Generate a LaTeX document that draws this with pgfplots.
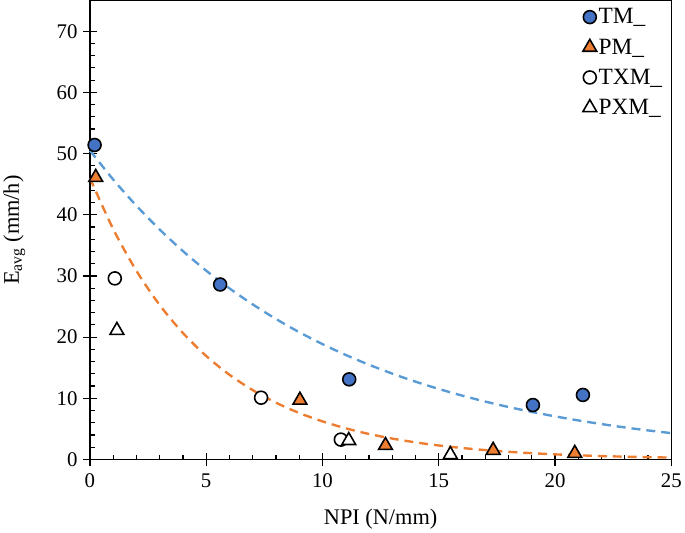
\documentclass[border=0pt]{standalone}
\usepackage{pgfplots}
\pgfplotsset{compat=1.18}
\usepackage{fontspec}
\setmainfont{Liberation Serif}
\definecolor{tmblue}{HTML}{4472C4}
\definecolor{pmorange}{HTML}{ED7D31}
\definecolor{lineblue}{HTML}{5B9BD5}
\begin{document}
\begin{tikzpicture}
\begin{axis}[
  scale only axis, width=584bp, height=461bp,
  xmin=0, xmax=25, ymin=0, ymax=75,
  xtick={0,5,...,25}, ytick={0,10,...,70},
  minor x tick num=4, minor y tick num=4,
  tick pos=left, tick align=inside,
  major tick length=7bp, minor tick length=5bp,
  extra x ticks={0,5,...,25}, extra x tick labels={},
  extra y ticks={0,10,...,70}, extra y tick labels={},
  extra tick style={tick align=outside, major tick length=7bp, grid=none},
  every tick/.style={black, line width=1.2pt},
  axis line style={line width=1.2pt},
  /pgf/number format/assume math mode=true,
  xticklabel shift=11bp, yticklabel shift=9bp,
  tick label style={font=\fontsize{21}{25}\selectfont},
  label style={font=\fontsize{22.5}{27}\selectfont},
  xlabel={NPI (N/mm)},
  ylabel={E\textsubscript{avg} (mm/h)},
  xlabel style={at={(axis description cs:0.5,0)}, anchor=center, yshift=-60bp},
  ylabel style={at={([xshift=-76bp]axis description cs:0,0.5)}, anchor=center},
  legend style={draw=none, fill=none, at={([xshift=-6bp,yshift=-4bp]axis description cs:1,1)}, anchor=north east, font=\fontsize{23.5}{28}\selectfont, row sep=9.5bp, inner xsep=1bp},
  legend cell align=left,
  clip=false,
]
\addplot[only marks, mark=*, mark size=6.5bp, mark options={fill=tmblue, draw=black, line width=1.6pt}]
 coordinates {(0.2,51.4) (5.6,28.6) (11.15,13.1) (19.05,8.9) (21.2,10.55)};
\addlegendentry{TM\_}
\addplot[only marks, mark=triangle*, mark size=8bp, mark options={fill=pmorange, draw=black, line width=1.6pt}]
 coordinates {(0.25,46.1) (9.03,9.7) (12.71,2.3) (17.34,1.5) (20.85,1.0)};
\addlegendentry{PM\_}
\addplot[only marks, mark=*, mark size=6.5bp, mark options={fill=white, draw=black, line width=1.6pt}]
 coordinates {(1.07,29.6) (7.36,10.1) (10.79,3.25)};
\addlegendentry{TXM\_}
\addplot[only marks, mark=triangle*, mark size=8bp, mark options={fill=white, draw=black, line width=1.6pt}]
 coordinates {(1.16,21.1) (11.13,3.1) (15.5,0.8)};
\addlegendentry{PXM\_}
\addplot[lineblue, line width=2.4pt, dash pattern=on 9bp off 6bp, smooth, forget plot]
 coordinates {(0,50.5) (1,45.76) (2,41.47) (3,37.58) (4,34.06) (5,30.86) (6,27.97) (7,25.35) (8,22.97) (9,20.81) (10,18.86) (11,17.09) (12,15.49) (13,14.04) (14,12.72) (15,11.53) (16,10.45) (17,9.47) (18,8.58) (19,7.78) (20,7.05) (21,6.39) (22,5.79) (23,5.24) (24,4.75) (25,4.31)};
\addplot[pmorange, line width=2.4pt, dash pattern=on 9bp off 6bp, smooth, forget plot]
 coordinates {(0,46) (1,37.66) (2,30.83) (3,25.24) (4,20.67) (5,16.92) (6,13.85) (7,11.34) (8,9.29) (9,7.60) (10,6.23) (11,5.10) (12,4.17) (13,3.42) (14,2.80) (15,2.29) (16,1.88) (17,1.54) (18,1.26) (19,1.03) (20,0.84) (21,0.69) (22,0.56) (23,0.46) (24,0.38) (25,0.31)};
\end{axis}
\end{tikzpicture}
\end{document}
